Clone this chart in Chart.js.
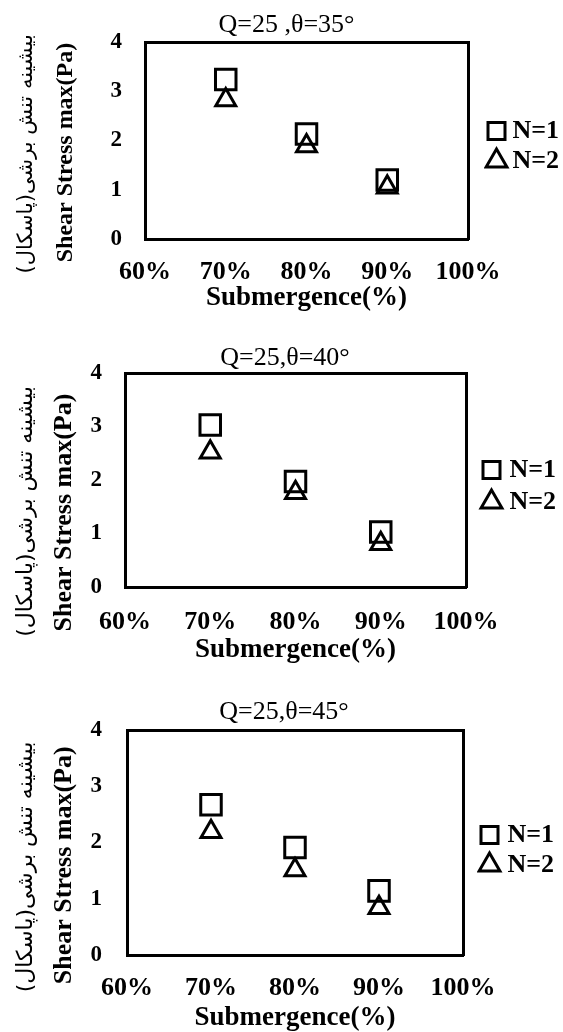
<!DOCTYPE html>
<html>
<head>
<meta charset="utf-8">
<script src="https://cdn.jsdelivr.net/npm/chart.js@4.4.1/dist/chart.umd.min.js"></script>
<style>
    html, body { margin: 0; padding: 0; background: #fff; overflow: hidden; }
    body { width: 563px; height: 1032px; position: relative; }
    .panel { position: absolute; left: 0; width: 563px; }
</style>
</head>
<body>
<div class="panel"><canvas id="chart35"></canvas></div>
<div class="panel"><canvas id="chart40"></canvas></div>
<div class="panel"><canvas id="chart45"></canvas></div>
<script>
// data
const submergence = [70, 80, 90];
const xTicks = [60, 70, 80, 90, 100];
const yTicks = [0, 1, 2, 3, 4];
const seriesNames = ['N=1', 'N=2'];
const panelTitles = ['Q=25 ,θ=35°', 'Q=25,θ=40°', 'Q=25,θ=45°'];
const xTitle = 'Submergence(%)';
const yTitleEn = 'Shear Stress max(Pa)';
const yTitleFa = 'بیشینه تنش برشی(پاسکال)\u200F';

const n1Theta35 = [3.24, 2.13, 1.20];
const n2Theta35 = [2.82, 1.89, 1.05];
const n1Theta40 = [3.03, 1.97, 1.03];
const n2Theta40 = [2.52, 1.76, 0.81];
const n1Theta45 = [2.67, 1.91, 1.14];
const n2Theta45 = [2.19, 1.51, 0.84];

const SERIF = "'Liberation Serif', 'Times New Roman', serif";
const PERSIAN = "'DejaVu Sans', sans-serif";
const W = 563;
const PAD_L = 14;
const YP_W = 31;
const LEGEND_FONT = 26;
const LEGEND_BOX = 17;

// page geometry of each panel (page pixels)
const panels = [
    { id: 'chart35', title: panelTitles[0], n1: n1Theta35, n2: n2Theta35, top: 0, height: 320,
      area: { left: 145, right: 468, top: 42, bottom: 239 }, titleY: 25, xLabelY: 272, xTitleY: 298,
      faX: 27, faSize: 21, enX: 66, enSize: 24, tickRight: 122,
      squareLeft: 488, textRight: 559, rowGap: 30, legendShift: 5.5, titleShift: 12 },
    { id: 'chart40', title: panelTitles[1], n1: n1Theta40, n2: n2Theta40, top: 325, height: 345,
      area: { left: 125, right: 466, top: 373, bottom: 587 }, titleY: 358, xLabelY: 622, xTitleY: 650,
      faX: 26, faSize: 22, enX: 64, enSize: 26, tickRight: 102,
      squareLeft: 483, textRight: 556, rowGap: 32, legendShift: 6, titleShift: 32 },
    { id: 'chart45', title: panelTitles[2], n1: n1Theta45, n2: n2Theta45, top: 672, height: 364,
      area: { left: 127, right: 463, top: 730, bottom: 955 }, titleY: 712, xLabelY: 988, xTitleY: 1018,
      faX: 26, faSize: 22, enX: 64, enSize: 26, tickRight: 102,
      squareLeft: 481, textRight: 554, rowGap: 30, legendShift: 7.5, titleShift: 24 }
];

function spaces(px, spaceWidth) {
    return '\u00A0'.repeat(Math.max(0, Math.round(px / spaceWidth)));
}

function points(values) {
    return submergence.map((x, i) => ({ x, y: values[i] }));
}

function drawPanel(p) {
    const canvas = document.getElementById(p.id);
    canvas.parentElement.style.top = p.top + 'px';
    canvas.width = W;
    canvas.height = p.height;

    const top = p.area.top - p.top;
    const bottom = p.area.bottom - p.top;
    const xTitleH = p.xTitleY - p.area.bottom + 16.2;
    const titlePadTop = p.titleY - p.top - 15.6;
    const legendPad = p.rowGap - LEGEND_FONT;
    const legendLeft = p.squareLeft - legendPad;

    const black = '#000';
    const border = { display: true, color: black, width: 3 };

    new Chart(canvas.getContext('2d'), {
        type: 'scatter',
        data: {
            datasets: [{
                label: seriesNames[0],
                data: points(p.n1),
                pointStyle: 'rect',
                pointRadius: 14.5,
                pointHoverRadius: 14.5,
                borderColor: black,
                backgroundColor: 'rgba(0,0,0,0)',
                borderWidth: 2.5,
                pointBorderWidth: 3
            }, {
                label: seriesNames[1],
                data: points(p.n2),
                pointStyle: 'triangle',
                pointRadius: 11.5,
                pointHoverRadius: 11.5,
                borderColor: black,
                backgroundColor: 'rgba(0,0,0,0)',
                borderWidth: 2.5,
                pointBorderWidth: 3
            }]
        },
        options: {
            responsive: false,
            animation: false,
            events: [],
            layout: { padding: { left: PAD_L, right: W - p.textRight, top: 0, bottom: p.height - bottom - xTitleH } },
            plugins: {
                tooltip: { enabled: false },
                title: {
                    display: true,
                    text: p.title,
                    color: black,
                    font: { family: SERIF, size: 26, weight: 'normal', lineHeight: 1.2 },
                    padding: { top: titlePadTop, bottom: top - titlePadTop - 31.2 }
                },
                legend: {
                    position: 'right',
                    fullSize: false,
                    maxWidth: p.textRight - legendLeft,
                    // empty title only nudges the two rows down a little
                    title: { display: true, text: '', font: { size: 1 }, padding: { top: 0, bottom: 2 * p.legendShift - 1.2 } },
                    labels: {
                        usePointStyle: true,
                        boxWidth: LEGEND_BOX,
                        boxHeight: LEGEND_BOX,
                        padding: legendPad,
                        textAlign: 'right',
                        color: black,
                        font: { family: SERIF, size: LEGEND_FONT, weight: 'bold' }
                    }
                }
            },
            scales: {
                x: {
                    type: 'linear',
                    position: 'bottom',
                    min: xTicks[0],
                    max: xTicks[xTicks.length - 1],
                    grid: { display: false, drawTicks: false },
                    border,
                    ticks: {
                        stepSize: 10,
                        padding: p.xLabelY - p.area.bottom - 15.6,
                        color: black,
                        font: { family: SERIF, size: 26, weight: 'bold' },
                        callback: v => v + '%'
                    },
                    title: {
                        display: true, text: xTitle, color: black,
                        font: { family: SERIF, size: 27, weight: 'bold' },
                        padding: { top: 0, bottom: 0 }
                    },
                    afterFit: s => { s.height = xTitleH; }
                },
                xTop: {
                    type: 'linear',
                    position: 'top',
                    grid: { display: false, drawTicks: false },
                    border,
                    ticks: { display: false },
                    afterFit: s => { s.height = 0; }
                },
                y: {
                    position: 'left',
                    weight: 1,
                    min: yTicks[0],
                    max: yTicks[yTicks.length - 1],
                    grid: { display: false, drawTicks: false },
                    border,
                    ticks: {
                        stepSize: 1,
                        padding: p.area.left - p.tickRight,
                        color: black,
                        font: { family: SERIF, size: 23, weight: 'bold' }
                    },
                    title: {
                        display: true,
                        text: yTitleEn + spaces(2 * p.titleShift, 0.25 * p.enSize),
                        color: black,
                        font: { family: SERIF, size: p.enSize, weight: 'bold' },
                        padding: { top: p.enX - PAD_L - YP_W - p.enSize * 0.6, bottom: 0 }
                    },
                    afterFit: s => { s.width = p.area.left - PAD_L - YP_W; }
                },
                yFa: {
                    type: 'linear',
                    position: 'left',
                    weight: 2,
                    grid: { display: false, drawTicks: false },
                    border: { display: false },
                    ticks: { display: false },
                    title: {
                        display: true,
                        text: yTitleFa + spaces(2 * p.titleShift, 0.318 * p.faSize),
                        color: black,
                        font: { family: PERSIAN, size: p.faSize, weight: 'normal' },
                        padding: { top: p.faX - PAD_L - p.faSize * 0.6, bottom: 0 }
                    },
                    afterFit: s => { s.width = YP_W; }
                },
                yRight: {
                    type: 'linear',
                    position: 'right',
                    grid: { display: false, drawTicks: false },
                    border,
                    ticks: { display: false },
                    afterFit: s => { s.width = legendLeft - p.area.right; }
                }
            }
        }
    });
}

panels.forEach(drawPanel);
</script>
</body>
</html>
